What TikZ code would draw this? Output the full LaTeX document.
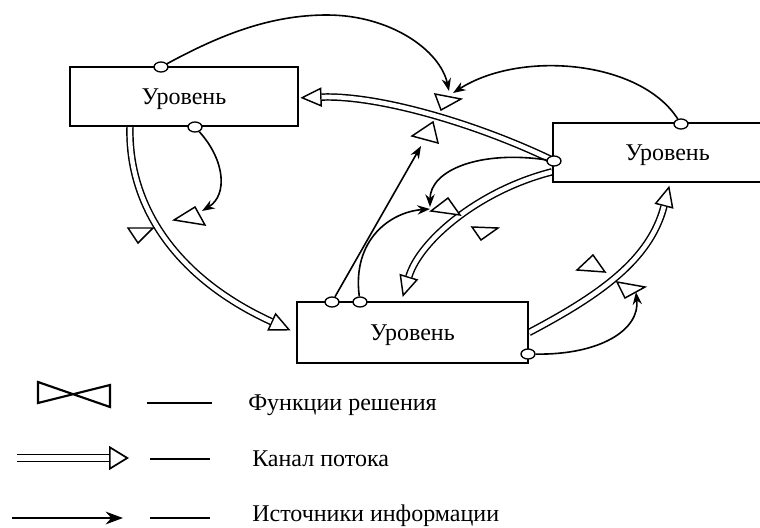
\documentclass[tikz,border=0pt]{standalone}
\usepackage{fontspec}
\setmainfont{Liberation Serif}
\usetikzlibrary{arrows.meta,shapes.geometric}
\pgfdeclarelayer{bg}
\pgfsetlayers{bg,main}
\newcommand\flowpipe[1]{\draw[pipetip] #1; \draw[pipebody] #1;}
\begin{document}
\begin{tikzpicture}[x=0.75pt,y=-0.75pt,
  lvl/.style={draw, line width=1.5pt, fill=white, inner sep=0pt, text depth=0pt,
    font=\fontsize{18}{21}\selectfont},
  circ/.style={ellipse, draw, fill=white, line width=1pt, minimum width=10.5pt,
    minimum height=7.5pt, inner sep=0pt},
  pipetip/.style={line width=1.1pt, -{Triangle[open, length=16pt, width=14.5pt, line width=1.1pt]}},
  pipebody/.style={line width=1.1pt, double=white, double distance=3.4pt, shorten >=16pt},
  info/.style={line width=1.2pt, -{Stealth[length=9.5pt, width=7pt]}},
  valve/.style={draw, line width=1.1pt, fill=white, line join=miter},
  legtext/.style={anchor=base west, inner sep=0pt, font=\fontsize{18}{21}\selectfont},
  dashline/.style={line width=0.8pt}]
\useasboundingbox (0,0) rectangle (760,528);
\clip (0,0) rectangle (760,528);

% level boxes
\node[lvl, minimum width=171pt, minimum height=44.25pt] (b1) at (184,96.5) {Уровень};
\node[lvl, minimum width=171.75pt, minimum height=44.25pt] (b2) at (667.5,152.5) {Уровень};
\node[lvl, minimum width=173.25pt, minimum height=45.75pt] (b3) at (412.5,332.5) {Уровень};

% information take-off circles
\node[circ] (c1t) at (161,67) {};
\node[circ] (c1b) at (195,127) {};
\node[circ] (c2t) at (681,124) {};
\node[circ] (c2l) at (554,161) {};
\node[circ] (c3a) at (332,302) {};
\node[circ] (c3b) at (360,302) {};
\node[circ] (c3r) at (528,354) {};

\begin{pgfonlayer}{bg}
% flow channels
\flowpipe{(c2l.center) .. controls (480,125) and (380,95) .. ([xshift=1pt,yshift=-1pt]b1.east)}
\flowpipe{([xshift=45.75pt]b1.south west) .. controls (128,200) and (170,275) .. ([xshift=-4pt,yshift=1.5pt]b3.west)}
\flowpipe{([yshift=-14.5pt]b2.west) .. controls (480,190) and (420,240) .. ([xshift=80pt,yshift=3pt]b3.north west)}
\flowpipe{(b3.east) .. controls (600,295) and (650,260) .. ([xshift=88pt,yshift=-2pt]b2.south west)}
% information links
\draw[info] (c1t) .. controls (220,35) and (270,15) .. (327,15) .. controls (390,15) and (440,50) .. (449,91);
\draw[info] (c2t) .. controls (640,60) and (520,50) .. (453,93);
\draw[info] (c1b) .. controls (225,160) and (228,195) .. (202,211);
\draw[info] (c3a) -- (421,146);
\draw[info] (c3b) .. controls (352,240) and (390,212) .. (430,209);
\draw[info] (c2l) .. controls (480,150) and (430,170) .. (430,207);
\draw[info] (c3r) .. controls (600,355) and (640,330) .. (636,292);
\end{pgfonlayer}

% decision functions (valves)
\draw[valve] (435,94) -- (461,99) -- (441,110) -- cycle;
\draw[valve] (412,136) -- (433,122) -- (438,143) -- cycle;
\draw[valve] (174,220) -- (195,207) -- (205,225) -- cycle;
\draw[valve] (128,228) -- (153,228) -- (138,243) -- cycle;
\draw[valve] (431,211) -- (448,198) -- (460,215) -- cycle;
\draw[valve] (472,227) -- (498,228) -- (481,240) -- cycle;
\draw[valve] (577,270) -- (593,255) -- (605,272) -- cycle;
\draw[valve] (617,282) -- (645,287) -- (625,298) -- cycle;

% legend
\draw[line width=1.6pt, line join=miter] (38,382) -- (110,407) -- (110,385) -- (38,403) -- cycle;
\draw[dashline] (147,403) -- (212,403);
\node[legtext] (t1) at (248,410) {Функции решения};

\coordinate (lpa) at (17,458);
\coordinate (lpb) at (129,458);
\draw[line width=1.3pt, -{Triangle[open, length=15pt, width=18pt, line width=1.3pt]}] (lpa) -- (lpb);
\draw[line width=1.3pt, double=white, double distance=4pt, shorten >=15pt] (lpa) -- (lpb);
\draw[dashline] (150,459) -- (210,459);
\node[legtext] (t2) at (252,466) {Канал потока};

\coordinate (lia) at (12,518);
\coordinate (lib) at (123,518);
\draw[line width=1.6pt, -{Stealth[length=13pt, width=9.5pt]}] (lia) -- (lib);
\draw[dashline] (150,518) -- (210,518);
\node[legtext] (t3) at (252,521) {Источники информации};
\end{tikzpicture}
\end{document}
